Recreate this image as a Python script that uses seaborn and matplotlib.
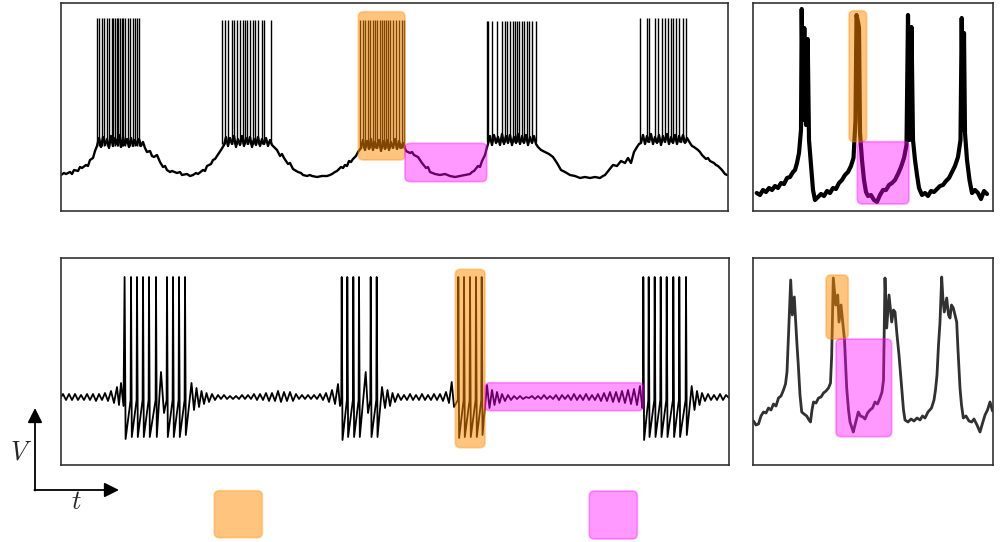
import matplotlib

matplotlib.use("Agg")
import matplotlib.pyplot as plt
import numpy as np
import seaborn as sns
from matplotlib.colors import to_rgb
from matplotlib.patches import FancyBboxPatch

W, H = 1002, 542

# ---- data (time / voltage in pixel-scale units) ----

# top-left: recorded slow wave with bursts of spikes
TL_TRACE = [
    (61, 175), (64, 173), (66, 174), (70, 172), (72, 174), (74, 170), (78, 171), (80, 167), (82, 168), (86, 165),
    (88, 166), (90, 160), (93, 158), (95, 151),
    (97, 146), (99, 138), (101, 147), (103, 137), (105, 145), (107, 139), (109, 148), (111, 136), (113, 146),
    (115, 138), (117, 144), (119, 135), (121, 147), (123, 137), (125, 145), (127, 139), (129, 147), (131, 138),
    (133, 146), (135, 140), (137, 145), (139, 139), (141, 146), (143, 142),
    (145, 148), (147, 152), (150, 151), (152, 156), (154, 157), (157, 155), (160, 162), (163, 167),
    (165, 166), (167, 170), (170, 172), (172, 171), (177, 173), (180, 172), (182, 175), (187, 174), (190, 176),
    (193, 175), (196, 173), (198, 174), (203, 170), (205, 171), (207, 166), (211, 164), (213, 160), (215, 159),
    (219, 153), (221, 150),
    (224, 145), (226, 137), (228, 146), (230, 138), (232, 144), (234, 136), (236, 147), (238, 139), (240, 145),
    (242, 136), (244, 146), (246, 138), (248, 144), (250, 137), (252, 147), (254, 139), (256, 145), (258, 137),
    (260, 146), (262, 139), (264, 144), (266, 138), (268, 146), (270, 140), (272, 145),
    (275, 148), (277, 150), (280, 156), (282, 154), (284, 158), (288, 164), (290, 163), (293, 169), (298, 172),
    (301, 173), (303, 175), (307, 176), (310, 175), (312, 176), (317, 177), (322, 176), (327, 176), (330, 175),
    (332, 174), (335, 172), (337, 171), (341, 167), (343, 168), (345, 165), (347, 166), (349, 161), (351, 162),
    (353, 159), (356, 156), (358, 152),
    (361, 148), (363, 140), (365, 150), (367, 141), (369, 149), (371, 139), (373, 150), (375, 142), (377, 148),
    (379, 140), (381, 151), (383, 141), (385, 149), (387, 140), (389, 150), (391, 142), (393, 148), (395, 139),
    (397, 149), (399, 141), (401, 148), (403, 143),
    (406, 151), (410, 153), (412, 152), (414, 155), (418, 157), (420, 160), (422, 163), (426, 168), (428, 167),
    (430, 172), (435, 174), (440, 175), (445, 174), (450, 176), (455, 177), (460, 176), (465, 175), (470, 174),
    (472, 172), (474, 171), (478, 166), (480, 167), (482, 161), (485, 155), (486.5, 149),
    (488, 144), (490, 136), (492, 145), (494, 135), (496, 143), (498, 137), (500, 145), (502, 134), (504, 144),
    (506, 136), (508, 143), (510, 135), (512, 145), (514, 137), (516, 143), (518, 134), (520, 144), (522, 136),
    (524, 143), (526, 135), (528, 145), (530, 137), (532, 143), (534, 136), (536, 144),
    (538, 147), (541, 150), (545, 152), (549, 154), (553, 157), (555, 160), (557, 163), (561, 170), (565, 172),
    (570, 175), (575, 176), (580, 178), (585, 177), (590, 178), (595, 177), (600, 178), (603, 176), (605, 175),
    (609, 170), (613, 165), (617, 166), (621, 161), (625, 163), (628, 158), (631, 163), (634, 152), (637, 147),
    (639, 144),
    (641, 143), (643, 135), (645, 144), (647, 136), (649, 142), (651, 134), (653, 144), (655, 137), (657, 143),
    (659, 135), (661, 145), (663, 136), (665, 142), (667, 134), (669, 144), (671, 137), (673, 143), (675, 135),
    (677, 144), (679, 136), (681, 142), (683, 135), (685, 143), (687, 138),
    (690, 143), (692, 146), (694, 147), (698, 150), (700, 152), (702, 155), (706, 159), (708, 158), (710, 161),
    (714, 163), (716, 165), (718, 166), (722, 170), (725, 174), (727, 175),
]
TL_SPIKES = [
    [96.7, 99.3, 101.7, 104.3, 106.7, 109.3, 111.7, 113.3, 115, 116.7, 118.3, 120, 121.7, 123.3, 125.3,
     127.7, 130, 132.7, 135, 137.3, 139.3],
    [222.3, 225, 228.3, 231.7, 234, 236.7, 240, 242.7, 245, 247.3, 250, 252.7, 255, 258.3, 261.7, 264, 270.7],
    [360, 362.5, 365, 368, 370, 372.5, 375, 377, 380, 382, 384, 386, 388, 390, 393, 396, 399, 402, 404],
    [486.7, 488.3, 491.7, 497.3, 501.7, 505, 507.3, 510, 512.7, 515, 516.7, 519.3, 521.7, 524, 526.7,
     529.3, 531.7, 536],
    [640, 646.7, 649.3, 655, 658.3, 661.7, 665, 668.3, 670.7, 673.3, 676, 679.3, 682.7, 686],
]
TL_SPIKE_TOP = [18, 20, 20, 21, 18]
TL_SPIKE_BASE = [146, 144, 148, 142, 142]

# top-right: recorded trace, few broad spikes
TR_TRACE = [
    (756.7, 193), (760, 195), (763, 190), (766, 192), (769, 188), (772, 190), (775, 186), (778, 188), (781, 183),
    (784, 184), (787, 178), (790, 177), (793, 172), (795, 170), (797, 163), (799, 153), (801, 130), (801.7, 9),
    (803, 120), (804.3, 28), (806, 125), (807.7, 39), (809, 140), (811, 165), (813, 190), (815, 200), (818, 197),
    (821, 194), (824, 196), (827, 191), (830, 193), (833, 188), (836, 189), (839, 183), (842, 180), (845, 175),
    (848, 172), (851, 166), (853.5, 158), (855.5, 120), (856.5, 15), (858, 22), (859, 28), (860, 133),
    (862, 160), (864, 180), (866, 192), (868, 196), (871, 195), (874, 200), (877, 202), (880, 195), (883, 190),
    (886, 190), (889, 185), (892, 183), (895, 180), (898, 174), (901, 167), (904, 158), (906.5, 145), (908, 15),
    (909.5, 140), (911.5, 27), (913, 140), (915, 160), (917, 175), (919, 188), (922, 195), (925, 193), (928, 196),
    (931, 191), (934, 192), (937, 189), (940, 186), (943, 185), (946, 181), (949, 178), (952, 172), (955, 166),
    (958, 157), (960.5, 140), (961.7, 18), (963, 130), (964, 33), (965, 133), (967, 160), (969.5, 180),
    (972, 193), (975, 190), (978, 193), (981, 199), (984, 191), (987, 194),
]

# bottom-left: model trace, subthreshold oscillation + spike bursts
BL_TRACE = [
    (61, 397), (63, 394), (66, 400), (69, 394), (72, 400), (75, 394), (78, 400), (81, 395), (84, 400), (87, 394),
    (90, 400), (93, 394), (96, 401), (99, 394), (102, 400), (105, 393), (108, 401), (111, 391), (114, 403),
    (117, 387), (119, 405), (121, 383), (123.5, 406),
    (124.6, 277), (125.6, 439), (130.6, 400), (131, 277), (131.8, 437), (136.6, 400), (137, 277), (137.8, 437),
    (142.6, 400), (143, 277), (143.8, 437), (148.6, 400), (149, 277), (149.8, 437), (155.6, 400), (156, 277),
    (156.8, 437), (161, 372), (164, 413), (166.6, 400), (167, 277), (167.8, 437), (172.6, 400), (173, 277),
    (173.8, 437), (178.6, 400), (179, 277), (179.8, 437), (184.6, 400), (185, 277), (185.8, 435),
    (191.5, 383), (194, 410), (196.5, 388), (199, 407), (201.5, 391), (204, 404), (206.5, 393), (209, 402),
    (212, 394), (215, 400), (218, 395), (221, 399), (224, 395), (227, 399), (230, 396), (233, 399), (236, 396),
    (239, 399), (242, 395), (245, 399), (248, 395), (251, 399), (254, 394), (257, 400), (260, 394), (263, 400),
    (266, 393), (269, 401), (272, 393), (275, 401), (278, 391), (281, 402), (284, 392), (287, 401), (290, 392),
    (293, 401), (296, 394), (299, 399), (302, 395), (305, 399), (308, 395), (311, 399), (314, 395), (317, 399),
    (320, 394), (323, 400), (326, 393), (329, 402), (332, 390), (335, 404), (338, 384), (340, 406),
    (341.3, 400), (341.7, 277), (342.5, 440), (346.9, 400), (347.3, 277), (348.1, 437), (352.9, 400),
    (353.3, 277), (354.1, 437), (358.6, 400), (359, 277), (359.8, 437), (365.7, 372), (368, 413), (370.3, 400),
    (370.7, 277), (371.5, 437), (376.3, 400), (376.7, 277), (377.5, 437),
    (382, 387), (385, 408), (387.5, 390), (390, 406), (392.5, 393), (395, 402), (398, 394), (401, 400),
    (404, 395), (407, 400), (410, 394), (413, 400), (416, 395), (419, 400), (422, 394), (425, 400), (428, 395),
    (431, 400), (434, 394), (437, 400), (440, 394), (443, 401), (446, 392), (449, 403), (451.7, 382), (454, 407),
    (457.9, 400), (458.3, 277), (459.1, 438), (463.6, 400), (464, 277), (464.8, 437), (469.6, 400), (470, 277),
    (470.8, 437), (475.6, 400), (476, 277), (476.8, 437), (481.3, 400), (481.7, 277), (482.5, 435),
    (487, 385), (489.5, 408), (492, 390), (494.5, 405), (497, 392), (499.5, 403), (502, 394), (505, 401),
    (508, 395), (511, 400), (514, 396), (517, 399), (520, 396), (523, 399), (526, 397), (529, 398), (532, 396),
    (535, 399), (538, 396), (541, 399), (544, 395), (547, 399), (550, 396), (553, 399), (556, 395), (559, 400),
    (562, 395), (565, 399), (568, 395), (571, 400), (574, 394), (577, 400), (580, 395), (583, 400), (586, 394),
    (589, 400), (592, 395), (595, 400), (598, 394), (601, 401), (604, 393), (607, 401), (610, 392), (613, 402),
    (616, 392), (619, 402), (622, 391), (625, 403), (628, 390), (631, 404), (634, 389), (637, 405), (640, 386),
    (642.3, 408),
    (643, 400), (643.3, 277), (644.1, 440), (648.3, 400), (648.7, 277), (649.5, 437), (654.3, 400), (654.7, 277),
    (655.5, 437), (660.3, 400), (660.7, 277), (661.5, 437), (666.3, 400), (666.7, 277), (667.5, 437),
    (672.9, 400), (673.3, 277), (674.1, 437), (678.9, 400), (679.3, 277), (680.1, 437), (685.6, 400), (686, 277),
    (686.8, 435),
    (691.7, 386), (694.5, 410), (697, 391), (699.5, 405), (702, 393), (705, 401), (708, 394), (711, 400),
    (714, 395), (717, 400), (720, 394), (723, 400), (726, 395), (729, 398),
]

# bottom-right: recorded trace
BR_TRACE = [
    (753.5, 421), (756, 425), (758.5, 424), (761, 416), (763.5, 412), (766, 413), (768.5, 408), (771, 410),
    (773.5, 404), (776, 406), (778.5, 398), (781, 396), (783.5, 390), (785.5, 384), (787, 372), (788.3, 340),
    (790.7, 280), (792.3, 315), (794.3, 297), (795.7, 322), (797, 345), (798.3, 365), (800, 395), (801.7, 412),
    (804, 414), (806.7, 416), (809, 420), (810.5, 422), (812, 410), (813.5, 402), (816, 403), (818.5, 398),
    (821, 397), (823.5, 393), (826, 391), (828.5, 388), (830.5, 383), (831.7, 355), (833.3, 278), (835.7, 305),
    (837.7, 295), (839, 322), (841, 305), (843, 325), (844.5, 340), (846.7, 388), (848.5, 410), (850, 422),
    (852, 428), (853.3, 432), (855, 425), (858.3, 412), (860.5, 416), (863, 417), (865, 419), (867.5, 413),
    (870, 410), (872.5, 408), (875, 402), (877.5, 404), (880, 398), (882, 392), (883.5, 380), (885, 278),
    (886.7, 328), (889, 295), (891.7, 322), (893.5, 310), (895, 312), (897, 335), (899, 355), (901.7, 388),
    (903.5, 410), (905, 420), (908, 422), (911, 419), (914, 421), (917, 418), (920, 420), (922.5, 416),
    (925, 418), (928, 412), (931.5, 408), (934, 400), (935.5, 390), (937, 375), (938.5, 345), (940, 322),
    (941.7, 277), (943, 300), (944.3, 312), (946.7, 298), (948.5, 315), (950, 318), (951.5, 305), (953.3, 308),
    (955, 315), (956.7, 322), (958, 350), (960, 388), (961.5, 405), (963.3, 418), (966, 416), (969, 421),
    (971.7, 422), (974, 419), (977, 425), (980, 432), (982, 425), (985, 415), (987.5, 410), (990, 402),
    (992.5, 411),
]

# highlighted windows: (t0, t1, v0, v1) for burst (orange) and silent phase (pink)
BURST_WIN = {"tl": (358.3, 405, 11.7, 160), "tr": (849, 866.7, 10.7, 141.7),
             "bl": (455.3, 485, 269.3, 447.7), "br": (826, 848.3, 275, 339)}
QUIET_WIN = {"tl": (405, 486.7, 143.3, 181.7), "tr": (857.3, 909, 141.7, 204),
             "bl": (485, 643.3, 382.7, 410.7), "br": (836, 891.7, 339, 436.7)}

# panel frames in figure pixels
PANELS = {"tl": (61, 728, 3, 211), "tr": (753, 993, 3, 211),
          "bl": (61, 729, 258, 465), "br": (753, 993, 258, 465)}

BURST_COLOR = "darkorange"
QUIET_COLOR = "magenta"


def add_box(ax, win, color, alpha, r):
    x0, x1, y0, y1 = win
    rgb = to_rgb(color)
    patch = FancyBboxPatch(
        (x0, y0), x1 - x0, y1 - y0,
        boxstyle=f"round,pad=0,rounding_size={r}",
        facecolor=(*rgb, alpha), edgecolor=(*rgb, 0.35), linewidth=1.3, zorder=5,
    )
    ax.add_patch(patch)


def make_panel(fig, key):
    x0, x1, y0, y1 = PANELS[key]
    ax = fig.add_axes([x0 / W, 1 - y1 / H, (x1 - x0) / W, (y1 - y0) / H])
    ax.set_xlim(x0, x1)
    ax.set_ylim(y1, y0)
    ax.set_xticks([])
    ax.set_yticks([])
    for sp in ax.spines.values():
        sp.set_color("#333333")
        sp.set_linewidth(1.2)
    return ax


def draw_trace(ax, trace, lw, color="black", alpha=1.0):
    arr = np.array(trace)
    sns.lineplot(x=arr[:, 0], y=arr[:, 1], ax=ax, sort=False, estimator=None,
                 color=color, linewidth=lw, alpha=alpha)


sns.set_style("white")
plt.rcParams["mathtext.fontset"] = "cm"

fig = plt.figure(figsize=(W / 100, H / 100), dpi=100)

ax_tl = make_panel(fig, "tl")
draw_trace(ax_tl, TL_TRACE, 1.7)
for spikes, top, base in zip(TL_SPIKES, TL_SPIKE_TOP, TL_SPIKE_BASE):
    ax_tl.vlines(spikes, base, top, color="black", linewidth=1.0)

ax_tr = make_panel(fig, "tr")
draw_trace(ax_tr, TR_TRACE, 3.0)

ax_bl = make_panel(fig, "bl")
draw_trace(ax_bl, BL_TRACE, 1.3)

ax_br = make_panel(fig, "br")
draw_trace(ax_br, BR_TRACE, 2.0, color="#1a1a1a", alpha=0.9)

for key, ax in zip(["tl", "tr", "bl", "br"], [ax_tl, ax_tr, ax_bl, ax_br]):
    add_box(ax, BURST_WIN[key], BURST_COLOR, 0.5, 5)
    add_box(ax, QUIET_WIN[key], QUIET_COLOR, 0.4, 5)

# overlay for the V/t axes sketch and the colour key
ov = fig.add_axes([0, 0, 1, 1], zorder=-1)
ov.set_xlim(0, W)
ov.set_ylim(H, 0)
ov.axis("off")
arrow = dict(arrowstyle="-|>", color="black", lw=1.3, mutation_scale=22, shrinkA=0, shrinkB=0)
ov.annotate("", xy=(35, 408), xytext=(35, 490.5), arrowprops=arrow)
ov.annotate("", xy=(119, 490), xytext=(34.4, 490), arrowprops=arrow)
ov.text(21, 452, r"$V$", fontsize=19, ha="center", va="center")
ov.text(76, 502, r"$t$", fontsize=19, ha="center", va="center")
add_box(ov, (214.3, 262.3, 490.7, 537.7), BURST_COLOR, 0.5, 5)
add_box(ov, (589.3, 637.3, 491, 539), QUIET_COLOR, 0.4, 5)

fig.savefig("out.png", dpi=100)
